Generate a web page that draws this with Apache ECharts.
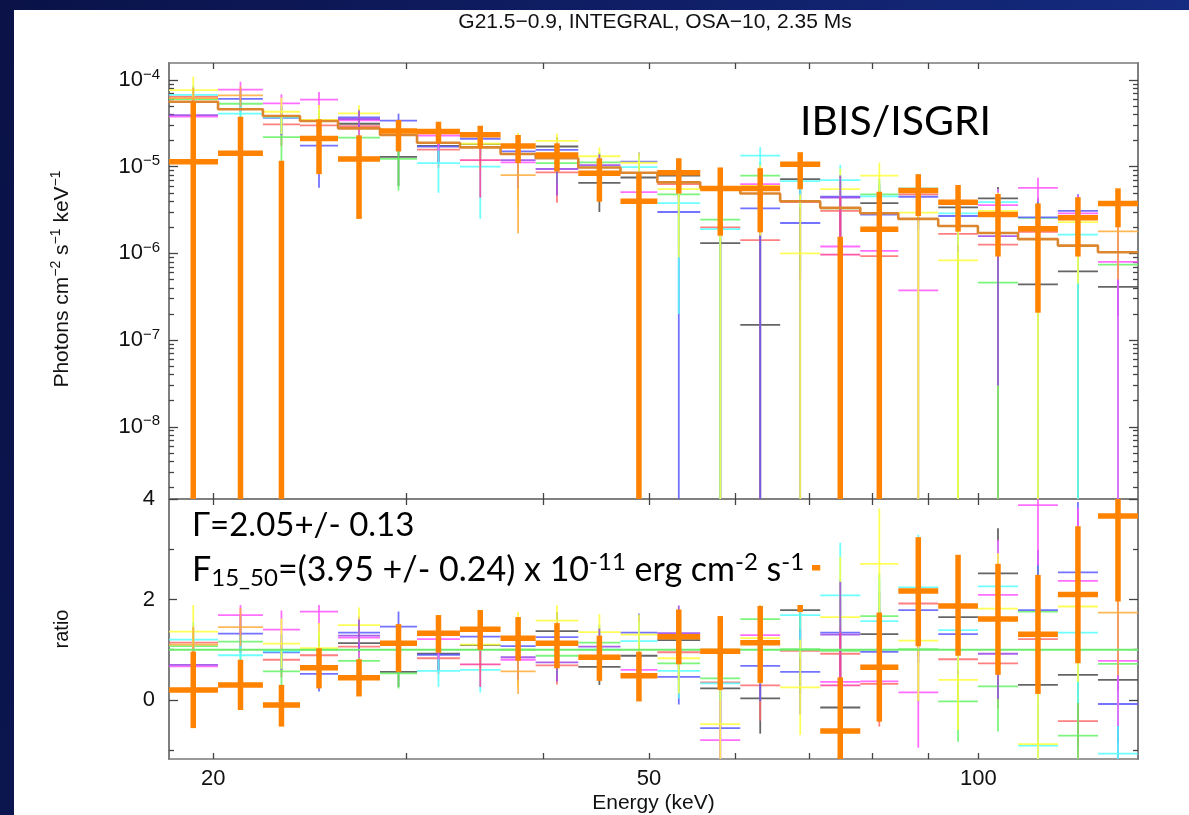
<!DOCTYPE html>
<html>
<head>
<meta charset="utf-8">
<title>G21.5-0.9 IBIS/ISGRI spectrum</title>
<script src="https://cdn.jsdelivr.net/npm/echarts@6/dist/echarts.min.js"></script>
<style>
html, body { margin:0; padding:0; width:1189px; height:815px; overflow:hidden;
  background: linear-gradient(100deg, #0a1247 0%, #10206a 55%, #172f86 100%); }
#sheet { position:absolute; left:14px; top:10px; width:1175px; height:805px; background:#ffffff; }
#chart { position:absolute; left:0; top:0; width:1189px; height:815px; }
</style>
</head>
<body>
<div id="sheet"></div>
<div id="chart"></div>
<script>
// ---- energy bins (keV) ----
const binLo = [18.2, 20.2, 22.2, 24.0, 26.0, 28.4, 30.7, 33.6, 36.6, 39.4, 43.1, 47.1, 50.9, 55.7, 60.6, 65.9, 71.7, 78.0, 84.5, 91.9, 99.9, 108.7, 118.2, 128.6];
const binHi = [20.2, 22.2, 24.0, 26.0, 28.4, 30.7, 33.6, 36.6, 39.4, 43.1, 47.1, 50.9, 55.7, 60.6, 65.9, 71.7, 78.0, 84.5, 91.9, 99.9, 108.7, 118.2, 128.6, 139.9];

// ---- power-law model, units of 1e-6 photons cm^-2 s^-1 keV^-1 ----
const modelFlux = [56.2, 45.9, 38.4, 33.7, 27.7, 23.2, 18.9, 16.7, 14.0, 12.5, 9.8, 8.5, 6.6, 5.7, 4.9, 4.0, 3.35, 2.9, 2.5, 2.07, 1.72, 1.46, 1.23, 1.03];

// ---- total spectrum (thick orange), 1e-6 units; negative = below zero ----
const mainFlux   = [11.4, 14.3, -3.8, 21.2, 12.3, 25.8, 25.5, 23.3, 17.3, 13.6, 8.4, 4.0, 8.5, 5.6, 5.6, 10.7, -2.0, 1.9, 5.3, 3.9, 2.8, 1.93, 2.57, 3.77];
const mainFluxLo = [-30, -9, -20, 8.2, 2.5, 15.0, 18.6, 16.3, 11.0, 8.8, 3.95, -0.3, 4.9, 1.6, 1.75, 5.5, -6, -1.2, 2.7, 1.78, 0.92, 0.207, 0.92, 2.0];
const mainFluxHi = [56, 37.7, 11.7, 35.2, 23.0, 34.6, 33.0, 29.7, 23.2, 18.6, 12.5, 8.4, 12.5, 9.8, 9.6, 14.7, 1.56, 5.15, 8.2, 6.15, 4.84, 3.77, 4.45, 5.63];
const mainRatio   = [0.20, 0.30, -0.10, 0.64, 0.44, 1.13, 1.33, 1.41, 1.23, 1.13, 0.85, 0.48, 1.26, 0.97, 1.14, 2.63, -0.62, 0.65, 2.17, 1.87, 1.61, 1.31, 2.10, 3.66];
const mainRatioLo = [-0.56, -0.20, -0.53, 0.23, 0.07, 0.56, 0.94, 1.00, 0.78, 0.63, 0.38, -0.03, 0.71, 0.20, 0.34, 1.75, -1.80, -0.43, 1.07, 0.88, 0.50, 0.12, 0.73, 1.96];
const mainRatioHi = [0.96, 0.80, 0.30, 1.03, 0.81, 1.51, 1.69, 1.79, 1.65, 1.53, 1.28, 0.96, 1.80, 1.67, 1.87, 3.50, 0.45, 1.74, 3.24, 2.89, 2.71, 2.49, 3.46, 5.40];

// ---- individual spectra (thin lines): ratio to model and flux (1e-6 units) ----
const blackRatio = [null, null, null, null, 1.13, 0.56, 0.92, 1.09, null, 1.37, 0.66, 0.88, 1.19, 0.23, 0.03, 1.79, -0.15, 1.31, null, 1.65, 2.52, 0.30, 0.50, 0.40];
const blackFlux  = [null, null, null, null, 31.3, 13.0, 17.4, 18.2, null, 17.1, 6.5, 7.5, 7.9, 1.31, 0.15, 7.2, -0.5, 3.8, null, 3.4, 4.3, 0.44, 0.62, 0.41];
const redRatio = [1.14, null, 0.80, 0.89, 1.06, null, 0.83, null, null, 0.69, null, null, 0.95, 0.35, 0.29, 0.98, 0.92, 0.32, 1.92, 0.81, 0.73, 1.21, -0.42, null];
const redFlux  = [64.1, null, 30.7, 30.0, 29.4, null, 15.7, null, null, 8.6, null, null, 6.3, 2.0, 1.42, 3.9, 3.1, 0.93, 4.8, 1.68, 1.26, 1.77, -0.52, null];
const greenRatio = [1.07, 1.16, 0.57, 1.00, 0.78, 0.53, null, null, 1.00, 0.88, 1.14, null, 0.73, 0.43, 1.61, 1.01, 0.98, 1.67, 1.01, -0.03, 0.27, 1.76, -0.71, 0.72];
const greenFlux  = [60.1, 53.2, 21.9, 33.7, 21.6, 12.3, null, null, 14.0, 11.0, 11.2, null, 4.8, 2.45, 7.9, 4.0, 3.3, 4.8, 2.5, -0.06, 0.46, 2.57, -0.87, 0.74];
const blueRatio = [null, 1.32, 0.95, 0.52, 1.34, 1.46, 0.90, 1.26, 1.07, 1.25, null, 1.34, 0.46, -0.56, 0.68, 0.56, 1.34, 0.96, 1.79, 1.31, null, 1.79, 2.54, -0.08];
const blueFlux  = [null, 60.6, 36.5, 17.5, 37.1, 33.9, 17.0, 21.0, 15.0, 15.6, null, 11.4, 3.0, -3.2, 3.3, 2.24, 4.5, 2.8, 4.5, 2.7, null, 2.6, 3.1, -0.08];
const cyanRatio = [1.20, 0.89, 0.97, null, null, null, 0.58, 0.60, null, null, 1.00, 1.17, 0.58, 0.33, 2.73, 1.69, 2.08, 1.57, 2.24, 1.39, 2.26, -0.91, 1.34, -1.07];
const cyanFlux  = [67.4, 40.9, 37.2, null, null, null, 11.0, 10.0, null, null, 9.8, 9.9, 3.8, 1.9, 13.4, 6.8, 7.0, 4.55, 5.6, 2.9, 3.9, -1.3, 1.65, -1.1];
const magentaRatio = [0.67, 1.69, 1.40, 1.76, 1.24, null, 1.21, null, 0.80, null, null, 0.60, null, -0.80, 1.29, null, 0.36, 0.37, 0.15, null, 2.09, 3.88, 2.37, 0.78];
const magentaFlux  = [37.7, 77.6, 53.8, 59.3, 34.3, null, 22.9, null, 11.2, null, null, 5.1, null, -4.6, 6.3, null, 1.2, 1.07, 0.375, null, 3.6, 5.7, 2.9, 0.8];
const yellowRatio = [1.36, null, 1.12, 1.03, 1.49, null, null, 1.10, 1.00, 1.58, 1.35, 1.30, 0.83, -0.48, 1.23, 0.25, 1.65, 2.71, 1.18, 0.40, 1.82, -0.88, 1.86, null];
const yellowFlux  = [76.4, null, 43.0, 34.7, 41.3, null, null, 18.4, 14.0, 19.8, 13.2, 11.1, 5.5, -2.7, 6.0, 1.0, 5.5, 7.9, 2.95, 0.83, 3.1, -1.3, 2.3, null];
const purpleRatio = [0.70, null, null, null, 1.28, null, null, null, 0.85, 0.75, 1.06, null, 1.33, null, null, null, 1.30, null, null, null, 0.92, null, null, null];
const purpleFlux  = [39.3, null, null, null, 35.5, null, null, null, 11.9, 9.4, 10.4, null, 8.8, null, null, null, 4.4, null, null, null, 1.58, null, null, null];
const pinkRatio = [null, null, null, null, null, null, null, 0.71, null, null, null, null, null, null, null, null, 0.29, null, null, null, null, null, null, null];
const pinkFlux  = [null, null, null, null, null, null, null, 11.9, null, null, null, null, null, null, null, null, 0.97, null, null, null, null, null, null, null];
const amberRatio = [1.10, 1.45, null, null, null, null, null, null, 0.57, null, null, null, null, null, null, null, null, null, null, null, null, null, null, 1.74];
const amberFlux  = [61.8, 66.6, null, null, null, null, null, null, 8.0, null, null, null, null, null, null, null, null, null, null, null, null, null, null, 1.79];

// 1-sigma half widths of the thin spectra: ratio units and flux units (1e-6)
const errBase    = [0.35, 0.38, 0.35, 0.35, 0.32, 0.30, 0.32, 0.45, 0.45, 0.38, 0.36, 0.38, 0.55, 0.80, 0.70, 0.85, 1.05, 0.85, 1.05, 0.80, 0.90, 1.20, 1.40, 1.25];
const errYellow  = [0.58, 0.50, 0.50, 0.50, 0.35, 0.50, 0.50, 0.55, 0.75, 0.35, 0.36, 0.40, 0.70, 0.90, 0.90, 0.95, 1.20, 1.10, 1.20, 1.00, 1.10, 1.30, 1.50, 1.40];
const errMagenta = [0.45, 0.39, 0.38, 0.40, 0.40, 0.40, 0.40, 0.47, 0.50, 0.40, 0.40, 0.40, 0.70, 0.80, 0.75, 0.90, 1.10, 0.80, 1.10, 0.90, 1.10, 1.20, 1.45, 1.30];
const fluxErrBase    = [19.7, 17.4, 13.4, 11.8, 8.9, 7.0, 6.0, 7.5, 6.3, 4.75, 3.5, 3.2, 3.6, 4.6, 3.4, 3.4, 3.5, 2.5, 2.6, 1.66, 1.55, 1.75, 1.72, 1.29];
const fluxErrYellow  = [32.6, 23.0, 19.2, 16.9, 9.7, 11.6, 9.5, 9.2, 10.5, 4.4, 3.5, 3.4, 4.6, 5.1, 4.4, 3.8, 4.0, 3.2, 3.0, 2.07, 1.9, 1.9, 1.85, 1.44];
const fluxErrMagenta = [25.3, 17.9, 14.6, 13.5, 11.1, 9.3, 7.6, 7.8, 7.0, 5.0, 3.9, 3.4, 4.6, 4.6, 3.7, 3.6, 3.7, 2.3, 2.75, 1.86, 1.9, 1.75, 1.78, 1.34];

// ---- axis ticks ----
const energyTicks = [20, 30, 40, 50, 60, 70, 80, 90, 100];
const energyLabels = [20, 50, 100];
const fluxDecades = [-8, -7, -6, -5, -4];
const ratioMajor = [0, 2, 4];
const ratioMinor = [-1, 1, 3];

// ---------------------------------------------------------------
const FONT = '"Liberation Sans", Arial, Helvetica, sans-serif';
const TEXT_FONT = 'Lato, "Open Sans", "Noto Sans", sans-serif';
const FLOOR = -12;                       // log10 stand-in for non-positive values
const X_MIN = Math.log10(18.22), X_MAX = Math.log10(139.9);
const toLog = v => (v != null && v > 0) ? Math.log10(v * 1e-6) : FLOOR;

const fluxMinor = [];
for (let d = -9; d <= -4; d++) for (let k = 2; k <= 9; k++) {
  const v = d + Math.log10(k);
  if (v > -8.83 && v < -3.80) fluxMinor.push(v);
}

function binX(i) { return [Math.log10(binLo[i]), Math.log10(binHi[i])]; }

// rows: [xLo, xHi, value, low, high, hasValue]
function fluxRows(val, lo, hi) {
  const out = [];
  val.forEach((v, i) => {
    if (v == null) return;
    const [a, b] = binX(i);
    out.push([a, b, v > 0 ? toLog(v) : FLOOR, toLog(lo[i]), toLog(hi[i]), v > 0 ? 1 : 0]);
  });
  return out;
}
function thinFluxRows(val, err) {
  return fluxRows(val, val.map((v, i) => v == null ? null : v - err[i]),
                       val.map((v, i) => v == null ? null : v + err[i]));
}
function ratioRows(val, lo, hi) {
  const out = [];
  val.forEach((v, i) => {
    if (v == null) return;
    const [a, b] = binX(i);
    out.push([a, b, v, lo[i], hi[i], 1]);
  });
  return out;
}
function thinRatioRows(val, err) {
  return ratioRows(val, val.map((v, i) => v == null ? null : v - err[i]),
                        val.map((v, i) => v == null ? null : v + err[i]));
}

function crossSeries(gridIdx, rows, color, width, z, opacity) {
  const xi = gridIdx === 0 ? 0 : 2;
  const yi = gridIdx === 0 ? 0 : 4;
  return {
    type: 'custom', xAxisIndex: xi, yAxisIndex: yi, z: z, clip: true, silent: true,
    data: rows,
    renderItem: function (params, api) {
      const x0 = api.value(0), x1 = api.value(1), v = api.value(2);
      const lo = api.value(3), hi = api.value(4), has = api.value(5);
      const xc = (x0 + x1) / 2;
      const style = { stroke: color, lineWidth: width, opacity: opacity, lineCap: 'butt' };
      const kids = [];
      if (hi > lo) {
        const p = api.coord([xc, hi]), q = api.coord([xc, lo]);
        kids.push({ type: 'line', shape: { x1: p[0], y1: p[1], x2: q[0], y2: q[1] }, style: style });
      }
      if (has) {
        const a = api.coord([x0, v]), b = api.coord([x1, v]);
        kids.push({ type: 'line', shape: { x1: a[0], y1: a[1], x2: b[0], y2: b[1] }, style: style });
      }
      return { type: 'group', children: kids };
    }
  };
}

const thinSets = [
  { color: '#4a4a4a', ratio: blackRatio,   flux: blackFlux,   re: errBase,    fe: fluxErrBase },
  { color: '#ff6a6a', ratio: redRatio,     flux: redFlux,     re: errBase,    fe: fluxErrBase },
  { color: '#66f266', ratio: greenRatio,   flux: greenFlux,   re: errBase,    fe: fluxErrBase },
  { color: '#5a5aff', ratio: blueRatio,    flux: blueFlux,    re: errBase,    fe: fluxErrBase },
  { color: '#55ffff', ratio: cyanRatio,    flux: cyanFlux,    re: errBase,    fe: fluxErrBase },
  { color: '#ff55ff', ratio: magentaRatio, flux: magentaFlux, re: errMagenta, fe: fluxErrMagenta },
  { color: '#ffff3c', ratio: yellowRatio,  flux: yellowFlux,  re: errYellow,  fe: fluxErrYellow },
  { color: '#9a48e8', ratio: purpleRatio,  flux: purpleFlux,  re: errBase,    fe: fluxErrBase },
  { color: '#ff3c9a', ratio: pinkRatio,    flux: pinkFlux,    re: errBase,    fe: fluxErrBase },
  { color: '#ffac3a', ratio: amberRatio,   flux: amberFlux,   re: errBase,    fe: fluxErrBase }
];

const series = [];
thinSets.forEach(s => {
  series.push(crossSeries(0, thinFluxRows(s.flux, s.fe), s.color, 1.8, 2, 0.85));
  series.push(crossSeries(1, thinRatioRows(s.ratio, s.re), s.color, 1.8, 2, 0.85));
});

// model step curve
const modelPts = [];
modelFlux.forEach((m, i) => {
  const [a, b] = binX(i);
  modelPts.push([a, toLog(m)], [b, toLog(m)]);
});
series.push({
  type: 'line', xAxisIndex: 0, yAxisIndex: 0, data: modelPts, showSymbol: false, symbol: 'none',
  lineStyle: { color: '#dc8730', width: 2.6 }, z: 3, silent: true, clip: true
});
// ratio = 1 reference
series.push({
  type: 'line', xAxisIndex: 2, yAxisIndex: 4, data: [[X_MIN, 1], [X_MAX, 1]], showSymbol: false, symbol: 'none',
  lineStyle: { color: '#6cec6c', width: 2 }, z: 3, silent: true
});
// total spectrum on top
series.push(crossSeries(0, fluxRows(mainFlux, mainFluxLo, mainFluxHi), '#ff8200', 5.5, 4, 1));
series.push(crossSeries(1, ratioRows(mainRatio, mainRatioLo, mainRatioHi), '#ff8200', 5.5, 4, 1));

// ---- axes ----
const LINE = { show: true, onZero: false, lineStyle: { color: '#7a7a7a', width: 1.6 } };
function xAxis(grid, pos, labels) {
  return {
    type: 'value', gridIndex: grid, position: pos, min: X_MIN, max: X_MAX,
    axisLine: LINE, splitLine: { show: false },
    axisTick: { show: true, inside: true, length: 6, customValues: energyTicks.map(Math.log10),
                lineStyle: { color: '#444', width: 1.3 } },
    axisLabel: labels ? {
      show: true, customValues: energyLabels.map(Math.log10), margin: 9,
      formatter: v => String(Math.round(Math.pow(10, v))),
      fontFamily: FONT, fontSize: 22, color: '#111'
    } : { show: false },
    name: labels ? 'Energy (keV)' : '', nameLocation: 'middle', nameGap: 34,
    nameTextStyle: { fontFamily: FONT, fontSize: 21, color: '#111' }
  };
}
function yAxis(grid, pos, min, max, ticks, len, label) {
  return {
    type: 'value', gridIndex: grid, position: pos, min: min, max: max,
    axisLine: LINE, splitLine: { show: false },
    axisTick: { show: true, inside: true, length: len, customValues: ticks,
                lineStyle: { color: '#444', width: 1.3 } },
    axisLabel: label || { show: false }
  };
}
const fluxLabel = {
  show: true, customValues: fluxDecades, margin: 9,
  formatter: v => '{b|10}{s|\u2212' + (-Math.round(v)) + '}',
  rich: {
    b: { fontFamily: FONT, fontSize: 22, color: '#111', lineHeight: 26 },
    s: { fontFamily: FONT, fontSize: 15, color: '#111', lineHeight: 15, verticalAlign: 'top' }
  }
};
const ratioLabel = {
  show: true, customValues: ratioMajor, margin: 14,
  formatter: v => String(Math.round(v)),
  fontFamily: FONT, fontSize: 22, color: '#111'
};

const F_MIN = -8.833, F_MAX = -3.804, R_MIN = -1.175, R_MAX = 4;

const option = {
  animation: false,
  backgroundColor: 'transparent',
  grid: [
    { left: 169, top: 63, width: 969, height: 436, outerBoundsMode: 'none', containLabel: false },
    { left: 169, top: 499, width: 969, height: 260, outerBoundsMode: 'none', containLabel: false }
  ],
  xAxis: [
    xAxis(0, 'bottom', false),
    xAxis(0, 'top', false),
    xAxis(1, 'bottom', true),
    xAxis(1, 'top', false)
  ],
  yAxis: [
    yAxis(0, 'left', F_MIN, F_MAX, fluxDecades, 9, fluxLabel),
    yAxis(0, 'left', F_MIN, F_MAX, fluxMinor, 5),
    yAxis(0, 'right', F_MIN, F_MAX, fluxDecades, 9),
    yAxis(0, 'right', F_MIN, F_MAX, fluxMinor, 5),
    yAxis(1, 'left', R_MIN, R_MAX, ratioMajor, 9, ratioLabel),
    yAxis(1, 'left', R_MIN, R_MAX, ratioMinor, 5),
    yAxis(1, 'right', R_MIN, R_MAX, ratioMajor, 9),
    yAxis(1, 'right', R_MIN, R_MAX, ratioMinor, 5)
  ],
  series: series,
  graphic: [
    // white panel behind the fit annotation
    { type: 'rect', z: 100, silent: true, shape: { x: 177, y: 505, width: 635, height: 100 }, style: { fill: '#ffffff' } },
    { type: 'text', z: 101, silent: true, x: 655, y: 22,
      style: { text: 'G21.5\u22120.9, INTEGRAL, OSA\u221210, 2.35 Ms', fontFamily: FONT, fontSize: 21,
               fill: '#111', align: 'center', verticalAlign: 'middle' } },
    { type: 'text', z: 101, silent: true, x: 62, y: 279, rotation: Math.PI / 2,
      style: { text: '{n|Photons cm}{s|\u22122}{n| s}{s|\u22121}{n| keV}{s|\u22121}', align: 'center', verticalAlign: 'middle',
               rich: { n: { fontFamily: FONT, fontSize: 21, fill: '#111', lineHeight: 25 },
                       s: { fontFamily: FONT, fontSize: 14, fill: '#111', lineHeight: 15, verticalAlign: 'top' } } } },
    { type: 'text', z: 101, silent: true, x: 62, y: 629, rotation: Math.PI / 2,
      style: { text: 'ratio', fontFamily: FONT, fontSize: 20, fill: '#111', align: 'center', verticalAlign: 'middle' } },
    { type: 'text', z: 101, silent: true, x: 800, y: 122,
      style: { text: 'IBIS/ISGRI', fontFamily: TEXT_FONT, fontSize: 41, fill: '#000', align: 'left', verticalAlign: 'middle' } },
    { type: 'text', z: 101, silent: true, x: 192, y: 525,
      style: { text: '\u0393=2.05+/- 0.13', fontFamily: TEXT_FONT, fontSize: 33, fill: '#000', align: 'left', verticalAlign: 'middle' } },
    { type: 'text', z: 101, silent: true, x: 192, y: 570,
      style: { text: '{n|F}{sub|15_50}{n|=(3.95 +/- 0.24) x 10}{sup|-11}{n| erg cm}{sup|-2}{n| s}{sup|-1}',
               align: 'left', verticalAlign: 'middle',
               rich: { n: { fontFamily: TEXT_FONT, fontSize: 34, fill: '#000', lineHeight: 40 },
                       sub: { fontFamily: TEXT_FONT, fontSize: 24, fill: '#000', lineHeight: 16, verticalAlign: 'bottom' },
                       sup: { fontFamily: TEXT_FONT, fontSize: 24, fill: '#000', lineHeight: 20, verticalAlign: 'top' } } } }
  ]
};

const chart = echarts.init(document.getElementById('chart'), null, { renderer: 'canvas' });
chart.setOption(option);
</script>
</body>
</html>
